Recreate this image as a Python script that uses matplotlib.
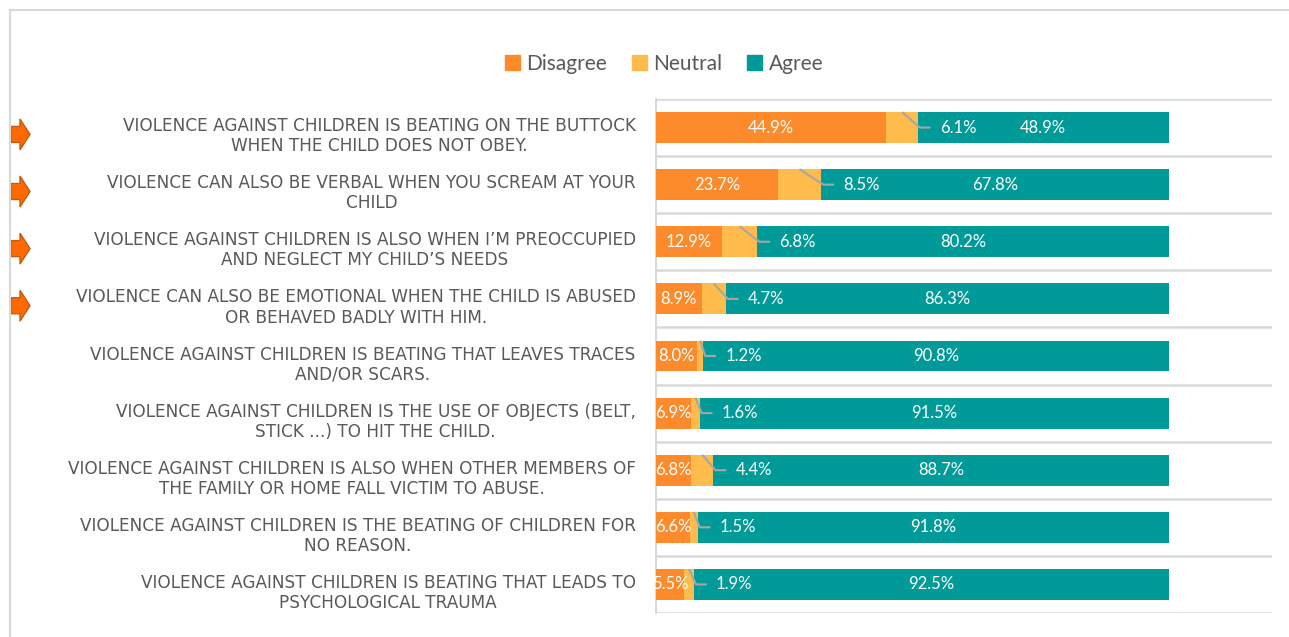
import numpy as np
import matplotlib

matplotlib.use("Agg")
import matplotlib.pyplot as plt
from matplotlib.lines import Line2D
from matplotlib.patches import Patch, Polygon
from matplotlib.transforms import blended_transform_factory

# statements, top to bottom
statements = [
    "VIOLENCE AGAINST CHILDREN IS BEATING ON THE BUTTOCK\nWHEN THE CHILD DOES NOT OBEY.",
    "VIOLENCE CAN ALSO BE VERBAL WHEN YOU SCREAM AT YOUR\nCHILD",
    "VIOLENCE AGAINST CHILDREN IS ALSO WHEN I\u2019M PREOCCUPIED\nAND NEGLECT MY CHILD\u2019S NEEDS",
    "VIOLENCE CAN ALSO BE EMOTIONAL WHEN THE CHILD IS ABUSED\nOR BEHAVED BADLY WITH HIM.",
    "VIOLENCE AGAINST CHILDREN IS BEATING THAT LEAVES TRACES\nAND/OR SCARS.",
    "VIOLENCE AGAINST CHILDREN IS THE USE OF OBJECTS (BELT,\nSTICK ...) TO HIT THE CHILD.",
    "VIOLENCE AGAINST CHILDREN IS ALSO WHEN OTHER MEMBERS OF\nTHE FAMILY OR HOME FALL VICTIM TO ABUSE.",
    "VIOLENCE AGAINST CHILDREN IS THE BEATING OF CHILDREN FOR\nNO REASON.",
    "VIOLENCE AGAINST CHILDREN IS BEATING THAT LEADS TO\nPSYCHOLOGICAL TRAUMA",
]
disagree = [44.9, 23.7, 12.9, 8.9, 8.0, 6.9, 6.8, 6.6, 5.5]
neutral = [6.1, 8.5, 6.8, 4.7, 1.2, 1.6, 4.4, 1.5, 1.9]
agree = [48.9, 67.8, 80.2, 86.3, 90.8, 91.5, 88.7, 91.8, 92.5]
series_names = ["Disagree", "Neutral", "Agree"]
flagged = [True, True, True, True, False, False, False, False, False]

C_DIS = "#FD8A2B"
C_NEU = "#FFBB4B"
C_AGR = "#009B99"
GRID = "#D9D9D9"
TXT = "#595959"

fig = plt.figure(figsize=(12.89, 6.37), dpi=100)
ax = fig.add_axes([656 / 1289, 24 / 637, 616 / 1289, 514 / 637])

y = np.arange(len(statements))
d = np.array(disagree)
n = np.array(neutral)
a = np.array(agree)
h = 0.54

ax.barh(y, d, height=h, color=C_DIS, zorder=3)
ax.barh(y, n, left=d, height=h, color=C_NEU, zorder=3)
ax.barh(y, a, left=d + n, height=h, color=C_AGR, zorder=3)

ax.set_xlim(0, 120)
ax.set_ylim(len(statements) - 0.5, -0.5)
ax.set_xticks([])
ax.set_yticks([])
for side in ["top", "right", "bottom"]:
    ax.spines[side].set_visible(False)
ax.spines["left"].set_color(GRID)
ax.spines["left"].set_linewidth(1.5)

# row separators
for b in np.arange(-0.5, len(statements) + 0.5, 1.0):
    ax.axhline(b, color=GRID, linewidth=1.8, zorder=1)

lbl_font = dict(family="Lato", fontsize=12, color="white")
for i in range(len(statements)):
    ax.text(d[i] / 2, y[i], f"{d[i]:.1f}%", ha="center", va="center", zorder=5, **lbl_font)
    ax.text(d[i] + n[i] + a[i] / 2, y[i], f"{a[i]:.1f}%", ha="center", va="center", zorder=5, **lbl_font)
    # neutral label with leader line
    end = d[i] + n[i]
    xs = [d[i] + n[i] / 2, end + 0.4, end + 2.5]
    ys = [y[i] - h / 2, y[i], y[i]]
    ax.plot(xs, ys, color="#A6A6A6", linewidth=1.5, zorder=4, solid_capstyle="butt")
    ax.text(end + 4.3, y[i], f"{n[i]:.1f}%", ha="left", va="center", zorder=5, **lbl_font)

# category labels
ytr = blended_transform_factory(ax.transAxes, ax.transData)
for i, s in enumerate(statements):
    ax.text(-0.033, y[i] + 0.15, s, transform=ytr, ha="right", va="center",
            multialignment="center", fontsize=12.2, color=TXT, linespacing=1.15,
            family="DejaVu Sans", clip_on=False)

# orange arrows marking the first rows
atr = blended_transform_factory(fig.transFigure, ax.transData)
W = 1289.0
for i, f in enumerate(flagged):
    if not f:
        continue
    yc = y[i] + 0.12
    pts = [(11 / W, yc - 0.14), (20 / W, yc - 0.14), (20 / W, yc - 0.27),
           (30 / W, yc), (20 / W, yc + 0.27), (20 / W, yc + 0.14), (11 / W, yc + 0.14)]
    ax.add_patch(Polygon(pts, closed=True, transform=atr, facecolor="#FF6A00",
                         edgecolor="#C55A11", linewidth=1.0, clip_on=False, zorder=6))

# outer frame (top and left edges)
fig.add_artist(Line2D([10 / W, 1.0], [1 - 10 / 637, 1 - 10 / 637], color=GRID, linewidth=1.5,
                      transform=fig.transFigure))
fig.add_artist(Line2D([10 / W, 10 / W], [0.0, 1 - 10 / 637], color=GRID, linewidth=1.5,
                      transform=fig.transFigure))

handles = [Patch(color=c) for c in [C_DIS, C_NEU, C_AGR]]
fig.legend(handles, series_names, loc="center", bbox_to_anchor=(664 / W, 1 - 64 / 637),
           ncol=3, frameon=False, handlelength=0.72, handleheight=0.72,
           handletextpad=0.3, columnspacing=1.2,
           prop=dict(family="Lato", size=15), labelcolor=TXT)

fig.savefig("out.png", dpi=100)
